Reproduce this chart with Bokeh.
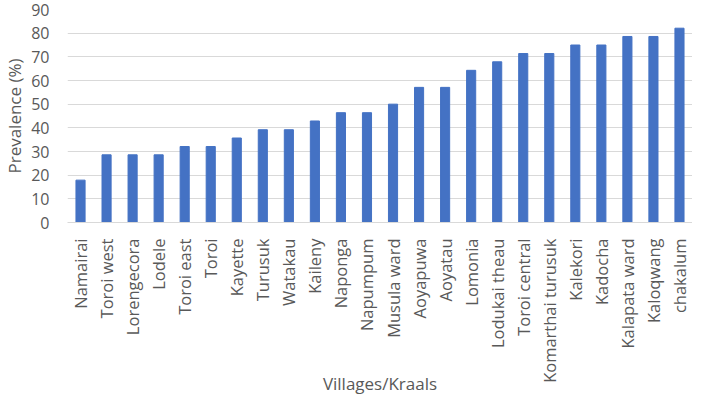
import math
from bokeh.plotting import figure
from bokeh.models import ColumnDataSource, FixedTicker, Range1d
from bokeh.embed import file_html
from bokeh.resources import INLINE

villages = ["Namairai", "Toroi west", "Lorengecora", "Lodele", "Toroi east", "Toroi",
            "Kayette", "Turusuk", "Watakau", "Kaileny", "Naponga", "Napumpum",
            "Musula ward", "Aoyapuwa", "Aoyatau", "Lomonia", "Lodukai theau",
            "Toroi central", "Komarthai turusuk", "Kalekori", "Kadocha",
            "Kalapata ward", "Kaloqwang", "chakalum"]
prevalence = [17.9, 28.6, 28.6, 28.6, 32.1, 32.1, 35.7, 39.2, 39.2, 42.9, 46.4, 46.4,
              50.0, 57.1, 57.1, 64.3, 67.9, 71.4, 71.4, 75.0, 75.0, 78.6, 78.6, 82.1]
y_ticks = [0, 10, 20, 30, 40, 50, 60, 70, 80, 90]

FONT = "Open Sans"
GREY = "#595959"

src = ColumnDataSource(dict(x=villages, top=prevalence))

p = figure(x_range=villages, y_range=Range1d(0, 90), width=692, height=397,
           output_backend="svg", toolbar_location=None,
           min_border_left=2, min_border_right=0, min_border_top=9, min_border_bottom=0)
p.vbar(x="x", top="top", width=0.35, source=src, color="#4472C4")

p.outline_line_color = None
p.background_fill_color = "white"
p.border_fill_color = "white"

p.yaxis.ticker = FixedTicker(ticks=y_ticks)
p.yaxis.axis_line_color = None
p.yaxis.major_tick_line_color = None
p.yaxis.minor_tick_line_color = None
p.yaxis.major_label_text_font = FONT
p.yaxis.major_label_text_font_size = "16px"
p.yaxis.major_label_text_color = GREY
p.yaxis.major_label_standoff = 12
p.yaxis.axis_label = "Prevalence (%)"
p.yaxis.axis_label_text_font = FONT
p.yaxis.axis_label_text_font_size = "17px"
p.yaxis.axis_label_text_font_style = "normal"
p.yaxis.axis_label_text_color = GREY
p.yaxis.axis_label_standoff = 2

p.xaxis.axis_line_color = "#d9d9d9"
p.xaxis.major_tick_line_color = None
p.xaxis.minor_tick_line_color = None
p.xaxis.major_label_orientation = math.pi / 2
p.xaxis.major_label_text_font = FONT
p.xaxis.major_label_text_font_size = "16.5px"
p.xaxis.major_label_text_color = GREY
p.xaxis.major_label_standoff = 10
p.xaxis.axis_label = "Villages/Kraals"
p.xaxis.axis_label_text_font = FONT
p.xaxis.axis_label_text_font_size = "17px"
p.xaxis.axis_label_text_font_style = "normal"
p.xaxis.axis_label_text_color = GREY
p.xaxis.axis_label_standoff = -14

p.xgrid.grid_line_color = None
p.ygrid.grid_line_color = "#d9d9d9"
p.ygrid.grid_line_width = 1
p.x_range.range_padding = 0.0

open("out.html", "w").write(file_html(p, INLINE))
